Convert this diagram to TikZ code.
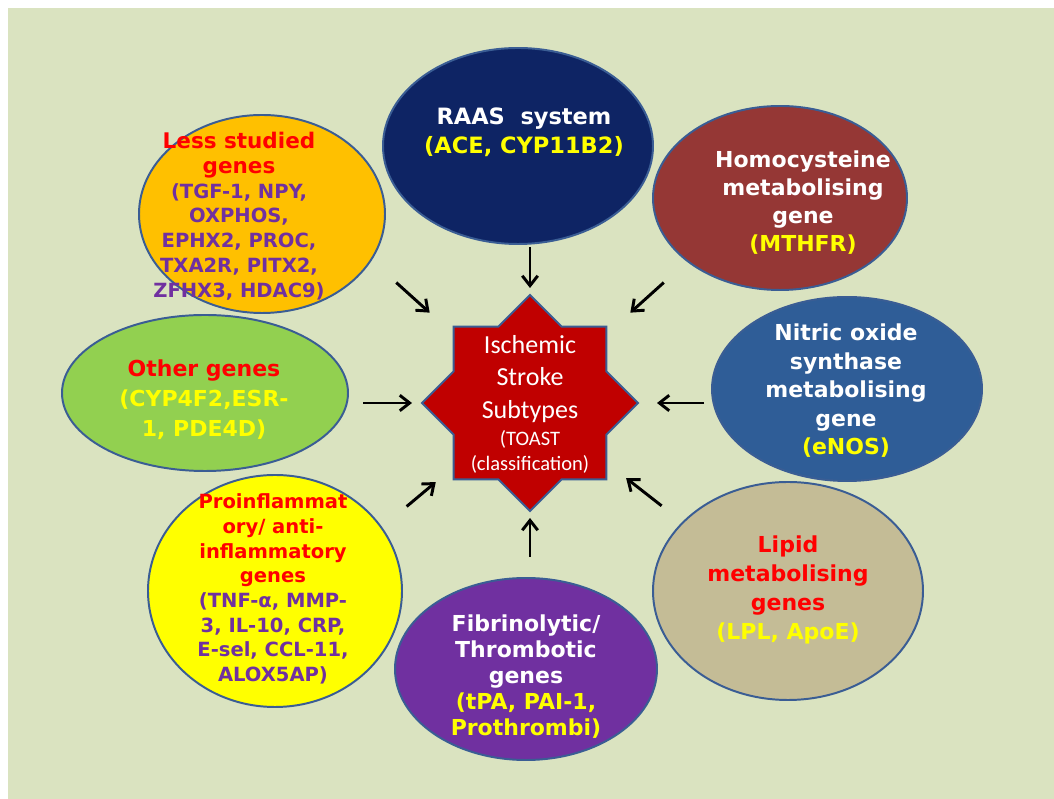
\documentclass[tikz,border=0pt]{standalone}
\usepackage{fontspec}
\usetikzlibrary{shapes.geometric,arrows.meta}
\newfontfamily\genefont{DejaVu Sans}
\newfontfamily\starfont{Carlito}
\definecolor{bgcol}{HTML}{DAE3C0}
\definecolor{edgeblue}{HTML}{3A5D94}
\definecolor{raasblue}{HTML}{0E2464}
\definecolor{homored}{HTML}{953735}
\definecolor{nosblue}{HTML}{2F5D97}
\definecolor{lipidtan}{HTML}{C4BC96}
\definecolor{fibpurple}{HTML}{7030A0}
\definecolor{proyellow}{HTML}{FFFF00}
\definecolor{othergreen}{HTML}{92D050}
\definecolor{lessorange}{HTML}{FFC000}
\definecolor{starred}{HTML}{C00000}
\definecolor{txtred}{HTML}{FF0000}
\definecolor{txtyellow}{HTML}{FFFF00}
\definecolor{txtpurple}{HTML}{7030A0}
\begin{document}
\begin{tikzpicture}[
    gene/.style={ellipse,draw=edgeblue,line width=1.4pt,inner sep=0pt},
    genetext/.style={align=center,inner sep=0pt,font={\genefont\bfseries\fontsize{15.65}{19.9}\selectfont}},
    smalltext/.style={align=center,inner sep=0pt,font={\genefont\bfseries\fontsize{13.9}{17.6}\selectfont}},
    arr/.style={-{Straight Barb[length=7pt,width=11pt]},line width=2.1pt}
]
    % Page and background
    \useasboundingbox (0,0) rectangle (26.35,19.975);
    \fill[bgcol] (0.2,0) rectangle (26.35,19.775);

    % Gene group ellipses
    \node[gene,fill=raasblue,minimum width=6.75cm,minimum height=4.9cm] (raas) at (12.95,16.325) {};
    \node[gene,fill=homored,minimum width=6.35cm,minimum height=4.6cm] (homo) at (19.5,15.025) {};
    \node[gene,fill=nosblue,minimum width=6.75cm,minimum height=4.6cm] (nos) at (21.175,10.25) {};
    \node[gene,fill=lipidtan,minimum width=6.75cm,minimum height=5.45cm] (lipid) at (19.7,5.2) {};
    \node[gene,fill=fibpurple,minimum width=6.55cm,minimum height=4.55cm] (fib) at (13.15,3.25) {};
    \node[gene,fill=proyellow,minimum width=6.35cm,minimum height=5.8cm] (infl) at (6.875,5.2) {};
    \node[gene,fill=othergreen,minimum width=7.15cm,minimum height=3.9cm] (other) at (5.125,10.15) {};
    \node[gene,fill=lessorange,minimum width=6.15cm,minimum height=4.95cm] (less) at (6.55,14.625) {};

    % Central star
    \node[star,star points=8,star point ratio=1.307,minimum size=5.4cm,inner sep=0pt,
          fill=starred,draw=edgeblue,line width=1.4pt] (star) at (13.25,9.9) {};
    \node[align=center,inner sep=0pt,text=white,font={\starfont\fontsize{18.5}{23.1}\selectfont}] (startext) at (13.25,9.875)
        {Ischemic\\Stroke\\Subtypes\\[-3.3pt]{\fontsize{14.6}{17}\selectfont (TOAST}\\[-6pt]{\fontsize{14.6}{17}\selectfont (classification)}};

    % Texts of the ellipses
    \node[genetext,text=white,font={\genefont\bfseries\fontsize{16}{20.6}\selectfont}] (raastext) at (13.1,16.675)
        {RAAS~~system\\\textcolor{txtyellow}{(ACE, CYP11B2)}};
    \node[genetext,text=white] (homotext) at (20.075,14.9)
        {Homocysteine\\metabolising\\gene\\\textcolor{txtyellow}{(MTHFR)}};
    \node[genetext,text=white,font={\genefont\bfseries\fontsize{15.65}{20.3}\selectfont}] (nostext) at (21.15,10.2)
        {Nitric oxide\\synthase\\metabolising\\gene\\\textcolor{txtyellow}{(eNOS)}};
    \node[genetext,text=txtred,font={\genefont\bfseries\fontsize{15.65}{20.6}\selectfont}] (lipidtext) at (19.7,5.225)
        {Lipid\\metabolising\\genes\\\textcolor{txtyellow}{(LPL, ApoE)}};
    \node[genetext,text=white,font={\genefont\bfseries\fontsize{15.65}{18.5}\selectfont}] (fibtext) at (13.15,3.05)
        {Fibrinolytic/\\Thrombotic\\genes\\\textcolor{txtyellow}{(tPA, PAI-1,}\\\textcolor{txtyellow}{Prothrombi)}};
    \node[smalltext,text=txtpurple] (infltext) at (6.825,5.25)
        {\textcolor{txtred}{Proinflammat}\\\textcolor{txtred}{ory/ anti-}\\\textcolor{txtred}{inflammatory}\\\textcolor{txtred}{genes}\\(TNF-α, MMP-\\3, IL-10, CRP,\\E-sel, CCL-11,\\ALOX5AP)};
    \node[genetext,text=txtred,font={\genefont\bfseries\fontsize{15.65}{21.3}\selectfont}] (othertext) at (5.1,9.975)
        {Other genes\\\textcolor{txtyellow}{(CYP4F2,ESR-}\\\textcolor{txtyellow}{1, PDE4D)}};
    \node[smalltext,text=txtpurple] (lesstext) at (5.975,14.575)
        {\textcolor{txtred}{\fontsize{15.3}{17.6}\selectfont Less studied}\\\textcolor{txtred}{\fontsize{15.3}{17.6}\selectfont genes}\\(TGF-1, NPY,\\OXPHOS,\\EPHX2, PROC,\\TXA2R, PITX2,\\ZFHX3, HDAC9)};

    % Arrows pointing to the star
    \draw[arr] ([shift={(90:3.9)}]star.center) -- ([shift={(90:2.875)}]star.center);
    \draw[arr] ([shift={(138:4.5)}]star.center) -- ([shift={(138:3.375)}]star.center);
    \draw[arr] ([shift={(42:4.5)}]star.center) -- ([shift={(42:3.375)}]star.center);
    \draw[arr] ([shift={(180:4.175)}]star.center) -- ([shift={(180:2.95)}]star.center);
    \draw[arr] ([shift={(0:4.35)}]star.center) -- ([shift={(0:3.175)}]star.center);
    \draw[arr] ([shift={(220:4.025)}]star.center) -- ([shift={(220:3.075)}]star.center);
    \draw[arr] ([shift={(-38:4.175)}]star.center) -- ([shift={(-38:3.05)}]star.center);
    \draw[arr] ([shift={(270:3.85)}]star.center) -- ([shift={(270:2.875)}]star.center);
\end{tikzpicture}
\end{document}
